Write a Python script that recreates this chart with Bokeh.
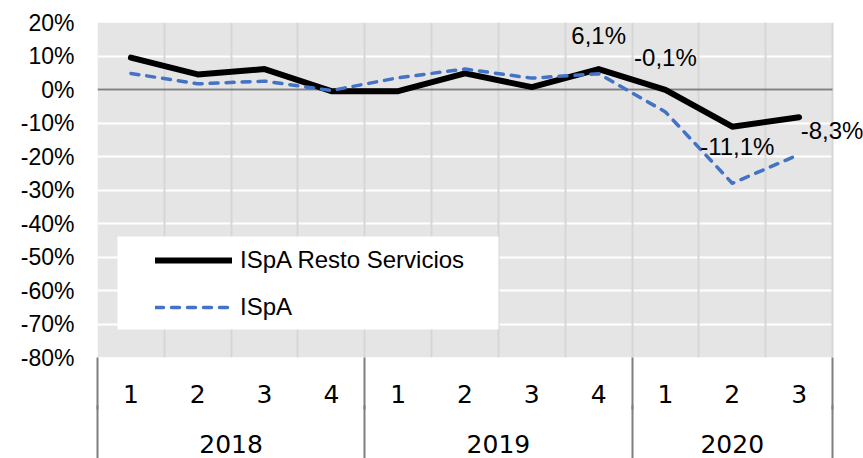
from bokeh.plotting import figure
from bokeh.models import (Range1d, ColumnDataSource, Legend, LegendItem, LinearAxis, Label,
                          Grid, FixedTicker, PrintfTickFormatter, BoxAnnotation)
from bokeh.embed import file_html
from bokeh.resources import INLINE

# ---------------- data ----------------
years = ["2018", "2019", "2020"]
quarters = [["1", "2", "3", "4"], ["1", "2", "3", "4"], ["1", "2", "3"]]
resto_servicios = [9.5, 4.5, 6.1, -0.5, -0.5, 4.8, 0.7, 6.1, -0.1, -11.1, -8.3]
ispa = [4.8, 1.7, 2.5, -0.3, 3.5, 6.1, 3.4, 4.7, -6.7, -28.0, -19.4]
y_ticks = [-80, -70, -60, -50, -40, -30, -20, -10, 0, 10, 20]
labeled_points = [7, 8, 9, 10]
series_names = ["ISpA Resto Servicios", "ISpA"]

# ---------------- styles ----------------
label_dx = [0, 0, 5, 33]
label_dy = [34, 32, -20, -13]   # screen px, positive = up
W, H = 863, 458
FRAME_L, FRAME_T, FRAME_B = 97, 22, 101
PLOT_W = 735          # width of the grey plotting area
AX_FONT = "DejaVu Sans"
TXT_FONT = "Liberation Sans"
ROW1, ROW2 = 52, 54   # separator lengths under the frame (quarter row, year row)

# category slots: quarter i occupies [i, i+1] on the index scale
q_labels = [q for qs in quarters for q in qs]
n = len(q_labels)
q_centers = [i + 0.5 for i in range(n)]
bounds = [0]
for qs in quarters:
    bounds.append(bounds[-1] + len(qs))
year_centers = [(a + b) / 2 for a, b in zip(bounds[:-1], bounds[1:])]
x_end = n * (W - FRAME_L) / PLOT_W   # leave room at the right for outside labels

p = figure(x_range=Range1d(0, x_end), y_range=Range1d(y_ticks[0], y_ticks[-1]), width=W, height=H,
           output_backend="svg", toolbar_location=None, x_axis_location=None,
           min_border_left=FRAME_L, min_border_right=0,
           min_border_top=FRAME_T, min_border_bottom=FRAME_B)
p.background_fill_color = "white"
p.border_fill_color = "white"
p.outline_line_color = None

# grey plotting area
p.add_layout(BoxAnnotation(left=0, right=n, fill_color="#e5e5e5", fill_alpha=1,
                           line_color=None, level="image"))

# grids
p.xgrid.grid_line_color = None
p.ygrid.grid_line_color = "white"
p.ygrid.grid_line_width = 2
p.add_layout(Grid(dimension=0, ticker=FixedTicker(ticks=list(range(n + 1))),
                  grid_line_color="#d6d6d6", grid_line_width=2))

# legend white box
p.add_layout(BoxAnnotation(left=117, right=498, top=236, bottom=329,
                           left_units="canvas", right_units="canvas", top_units="canvas", bottom_units="canvas",
                           fill_color="white", fill_alpha=1, line_color=None, level="underlay"))

# zero baseline across the category area
p.segment(x0=[0], y0=[0], x1=[n], y1=[0], line_color="#808080", line_width=2)

src = ColumnDataSource(dict(x=q_centers, rs=resto_servicios, ispa=ispa))
r1 = p.line("x", "rs", source=src, line_color="black", line_width=6, line_join="round", line_cap="round")
r2 = p.line("x", "ispa", source=src, line_color="#4472C4", line_width=3.5, line_dash="8 8",
            line_join="round", line_cap="round")

for i, dx, dy in zip(labeled_points, label_dx, label_dy):
    p.add_layout(Label(x=q_centers[i], y=resto_servicios[i],
                       text=("%.1f%%" % resto_servicios[i]).replace(".", ","),
                       x_offset=dx, y_offset=dy, text_align="center", text_baseline="middle",
                       text_font=TXT_FONT, text_font_size="24px", text_color="black"))

legend = Legend(items=[LegendItem(label=series_names[0], renderers=[r1]),
                       LegendItem(label=series_names[1], renderers=[r2])],
                location=(58, 36), padding=0, spacing=19, glyph_width=77, glyph_height=24,
                label_height=24, label_standoff=8, label_text_font=TXT_FONT,
                label_text_font_size="24px", label_text_color="black",
                background_fill_alpha=0, border_line_alpha=0)
p.add_layout(legend)

# y axis
p.yaxis.ticker = FixedTicker(ticks=y_ticks)
p.yaxis.formatter = PrintfTickFormatter(format="%d%%")
p.yaxis.axis_line_color = None
p.yaxis.major_tick_line_color = None
p.yaxis.minor_tick_line_color = None
p.yaxis.major_label_standoff = 17
p.yaxis.major_label_text_font = TXT_FONT
p.yaxis.major_label_text_font_size = "23px"
p.yaxis.major_label_text_color = "black"

# x axes: quarters, then years (minor ticks at year boundaries act as separators)
qa = LinearAxis(ticker=FixedTicker(ticks=q_centers, minor_ticks=bounds),
                major_label_overrides={c: l for c, l in zip(q_centers, q_labels)},
                axis_line_color=None, major_tick_line_color=None, major_tick_out=0, major_tick_in=0,
                minor_tick_line_color="#7f7f7f", minor_tick_line_width=2, minor_tick_in=0, minor_tick_out=ROW1,
                major_label_standoff=-25, major_label_text_font=AX_FONT, major_label_text_font_size="25px",
                major_label_text_color="black")
ya = LinearAxis(ticker=FixedTicker(ticks=year_centers, minor_ticks=bounds),
                major_label_overrides={c: l for c, l in zip(year_centers, years)},
                axis_line_color=None, major_tick_line_color=None, major_tick_out=0, major_tick_in=0,
                minor_tick_line_color="#7f7f7f", minor_tick_line_width=2, minor_tick_in=0, minor_tick_out=ROW2,
                major_label_standoff=-25, major_label_text_font=AX_FONT, major_label_text_font_size="25px",
                major_label_text_color="black")
p.add_layout(qa, "below")
p.add_layout(ya, "below")

open("out.html", "w").write(file_html(p, INLINE))
